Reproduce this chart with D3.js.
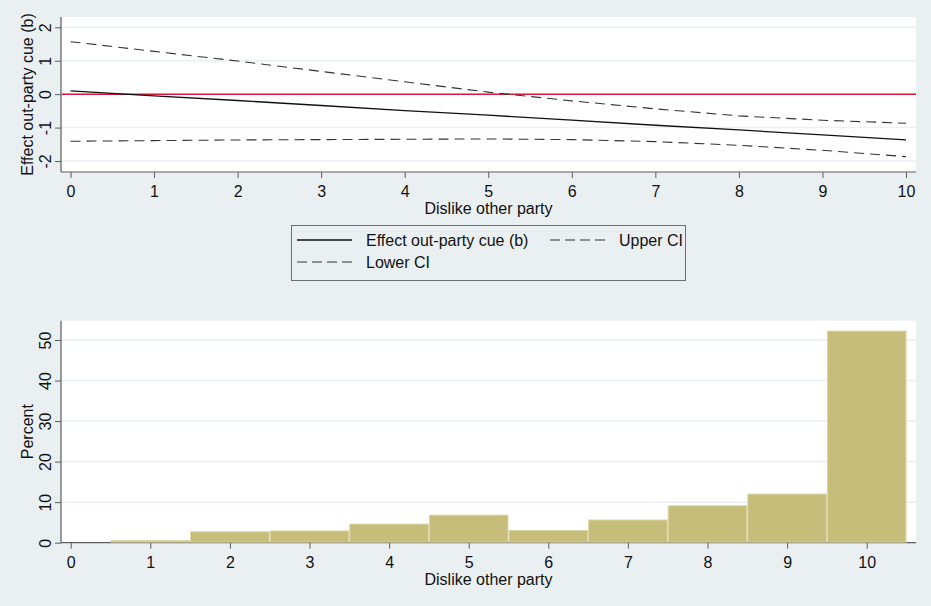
<!DOCTYPE html>
<html>
<head>
<meta charset="utf-8">
<script src="https://cdn.jsdelivr.net/npm/d3@7"></script>
<style>
  body { margin: 0; background: #eaf0f1; }
  svg { display: block; font-family: "Liberation Sans", Arial, sans-serif; }
</style>
</head>
<body>
<div id="chart"></div>
<script>
// dislike scale 0..10
const dislike = [0, 1, 2, 3, 4, 5, 6, 7, 8, 9, 10];
const effect = [0.10, -0.05, -0.19, -0.34, -0.49, -0.63, -0.78, -0.93, -1.07, -1.22, -1.37];
const upperCI = [1.57, 1.28, 0.99, 0.68, 0.37, 0.06, -0.20, -0.44, -0.65, -0.78, -0.87];
const lowerCI = [-1.41, -1.39, -1.37, -1.36, -1.35, -1.34, -1.36, -1.42, -1.53, -1.68, -1.87];
const effectTicks = [-2, -1, 0, 1, 2];

// histogram (percent per category)
const histCats = [1, 2, 3, 4, 5, 6, 7, 8, 9, 10];
const histPct = [0.5, 2.7, 2.9, 4.6, 6.8, 3.0, 5.6, 9.1, 12.0, 52.2];
const pctTicks = [0, 10, 20, 30, 40, 50];

const width = 931, height = 606;
const bg = '#eaf0f1', grid = '#e9f0f1', axisCol = '#5c5c5c';
const fs = 16;

const svg = d3.select('#chart').append('svg')
  .attr('width', width)
  .attr('height', height);
svg.append('rect').attr('width', width).attr('height', height).attr('fill', bg);

function styleAxis(g) {
  g.selectAll('.domain').attr('stroke', axisCol).attr('stroke-width', 1.2);
  g.selectAll('.tick line').attr('stroke', axisCol);
  g.selectAll('.tick text').attr('fill', '#111').attr('font-size', fs);
}

function drawPanel(top, bottom, x, y, yTicks, yLabel) {
  const left = 61, right = 916;
  svg.append('rect')
    .attr('x', left).attr('y', top)
    .attr('width', right - left).attr('height', bottom - top)
    .attr('fill', '#fff');

  // horizontal grid
  svg.selectAll(null)
    .data(yTicks)
    .enter()
    .append('line')
    .attr('x1', left).attr('x2', right)
    .attr('y1', d => y(d)).attr('y2', d => y(d))
    .attr('stroke', grid)
    .attr('stroke-width', 1.5);

  const xa = svg.append('g')
    .attr('transform', `translate(0, ${bottom})`)
    .call(d3.axisBottom(x).tickValues(dislike).tickFormat(d => String(d)).tickSize(6).tickPadding(8).tickSizeOuter(0));
  xa.select('.domain').attr('d', `M${left},0H${right}`);
  styleAxis(xa);

  const ya = svg.append('g')
    .attr('transform', `translate(${left}, 0)`)
    .call(d3.axisLeft(y).tickValues(yTicks).tickFormat(d => String(d)).tickSize(6).tickSizeOuter(0));
  ya.select('.domain').attr('d', `M0,${top}V${bottom}`);
  styleAxis(ya);
  ya.selectAll('.tick text')
    .attr('transform', 'rotate(-90)')
    .attr('x', 0).attr('y', -10).attr('dy', 0)
    .attr('text-anchor', 'middle');

  svg.append('text')
    .attr('x', (left + right) / 2)
    .attr('y', bottom + 42)
    .attr('text-anchor', 'middle')
    .attr('font-size', fs)
    .attr('fill', '#111')
    .text('Dislike other party');

  svg.append('text')
    .attr('transform', `translate(33, ${(top + bottom) / 2}) rotate(-90)`)
    .attr('text-anchor', 'middle')
    .attr('font-size', fs)
    .attr('fill', '#111')
    .text(yLabel);
}

// ---- top panel: marginal effect ----
const x1 = d3.scaleLinear().domain([0, 10]).range([70.5, 906]);
const y1 = d3.scaleLinear().domain([-2, 2]).range([161, 27.3]);
drawPanel(17, 172, x1, y1, effectTicks, 'Effect out-party cue (b)');

svg.append('line')
  .attr('x1', 62).attr('x2', 916)
  .attr('y1', y1(0)).attr('y2', y1(0))
  .attr('stroke', '#d6193f')
  .attr('stroke-width', 1.5);

const line = d3.line()
  .x((d, i) => x1(dislike[i]))
  .y(d => y1(d));

svg.append('path').datum(upperCI)
  .attr('fill', 'none').attr('stroke', '#333').attr('stroke-width', 1.1)
  .attr('stroke-dasharray', '10,6').attr('d', line);
svg.append('path').datum(lowerCI)
  .attr('fill', 'none').attr('stroke', '#333').attr('stroke-width', 1.1)
  .attr('stroke-dasharray', '10,6').attr('d', line);
svg.append('path').datum(effect)
  .attr('fill', 'none').attr('stroke', '#111').attr('stroke-width', 1.3)
  .attr('d', line);

// legend
const legend = svg.append('g');
legend.append('rect')
  .attr('x', 291.5).attr('y', 225.5)
  .attr('width', 394).attr('height', 55)
  .attr('fill', bg).attr('stroke', '#6f6f6f');
const legendItems = [
  { label: 'Effect out-party cue (b)', dash: null, lx: 297, ty: 240 },
  { label: 'Upper CI', dash: '10,5', lx: 550, ty: 240 },
  { label: 'Lower CI', dash: '10,5', lx: 297, ty: 262 }
];
legendItems.forEach(it => {
  legend.append('line')
    .attr('x1', it.lx).attr('x2', it.lx + 55)
    .attr('y1', it.ty).attr('y2', it.ty)
    .attr('stroke', it.dash ? '#333' : '#111')
    .attr('stroke-width', it.dash ? 1.1 : 1.3)
    .attr('stroke-dasharray', it.dash);
  legend.append('text')
    .attr('x', it.lx + 69).attr('y', it.ty + 6)
    .attr('font-size', fs).attr('fill', '#111')
    .text(it.label);
});

// ---- bottom panel: histogram ----
const x2 = d3.scaleLinear().domain([0, 10]).range([70.7, 866.7]);
const y2 = d3.scaleLinear().domain([0, 50]).range([542.7, 340]);
drawPanel(320.7, 542.7, x2, y2, pctTicks, 'Percent');

svg.append('g')
  .selectAll('rect')
  .data(histCats)
  .enter()
  .append('rect')
  .attr('x', d => x2(d - 0.5) + 0.5)
  .attr('width', d => x2(d + 0.5) - x2(d - 0.5) - 1)
  .attr('y', (d, i) => y2(histPct[i]))
  .attr('height', (d, i) => y2(0) - y2(histPct[i]) - 0.6)
  .attr('fill', '#c6bd7b')
  .attr('stroke', '#dcd6a6')
  .attr('stroke-width', 1);
</script>
</body>
</html>
